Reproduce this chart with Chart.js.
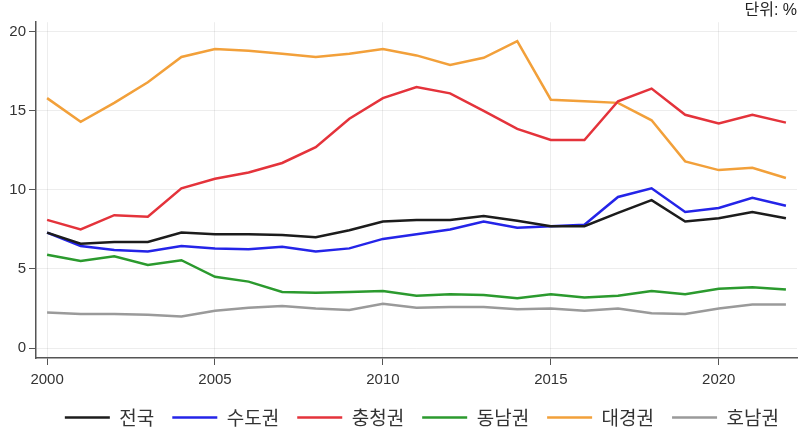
<!DOCTYPE html>
<html>
<head>
<meta charset="utf-8">
<style>
  html, body { margin: 0; padding: 0; background: #fff; }
  #wrap { width: 801px; height: 431px; }
</style>
<script src="https://cdn.jsdelivr.net/npm/chart.js@4"></script>
</head>
<body>
<div id="wrap"><canvas id="chart" width="801" height="431"></canvas></div>
<script>
// 연도
const years = [2000, 2001, 2002, 2003, 2004, 2005, 2006, 2007, 2008, 2009, 2010, 2011,
               2012, 2013, 2014, 2015, 2016, 2017, 2018, 2019, 2020, 2021, 2022];

// 권역별 비중 (%)
const nation   = [7.3, 6.6, 6.7, 6.7, 7.3, 7.2, 7.2, 7.15, 7.0, 7.45, 8.0, 8.1,
                  8.1, 8.35, 8.05, 7.7, 7.7, 8.55, 9.35, 8.0, 8.2, 8.6, 8.2];
const capital  = [7.3, 6.45, 6.2, 6.1, 6.45, 6.3, 6.25, 6.4, 6.1, 6.3, 6.9, 7.2,
                  7.5, 8.0, 7.6, 7.7, 7.8, 9.55, 10.1, 8.6, 8.85, 9.5, 9.0];
const chungcheong = [8.1, 7.5, 8.4, 8.3, 10.1, 10.7, 11.1, 11.7, 12.7, 14.5, 15.8, 16.5,
                  16.1, 15.0, 13.85, 13.15, 13.15, 15.6, 16.4, 14.75, 14.2, 14.75, 14.25];
const dongnam  = [5.9, 5.5, 5.8, 5.25, 5.55, 4.5, 4.2, 3.55, 3.5, 3.55, 3.6, 3.3,
                  3.4, 3.35, 3.15, 3.4, 3.2, 3.3, 3.6, 3.4, 3.75, 3.85, 3.7];
const daegyeong = [15.8, 14.3, 15.5, 16.8, 18.4, 18.9, 18.8, 18.6, 18.4, 18.6, 18.9, 18.5,
                  17.9, 18.35, 19.4, 15.7, 15.6, 15.5, 14.4, 11.8, 11.25, 11.4, 10.75];
const honam    = [2.25, 2.15, 2.15, 2.1, 2.0, 2.35, 2.55, 2.65, 2.5, 2.4, 2.8, 2.55,
                  2.6, 2.6, 2.45, 2.5, 2.35, 2.5, 2.2, 2.15, 2.5, 2.75, 2.75];

const regionNames = ['전국', '수도권', '충청권', '동남권', '대경권', '호남권'];
const xTicks = [2000, 2005, 2010, 2015, 2020];
const yTicks = [0, 5, 10, 15, 20];

const seriesList = [nation, capital, chungcheong, dongnam, daegyeong, honam];
const colors = ['#1c1c1c', '#2424e8', '#e4333b', '#2b9a2e', '#f2a03a', '#9a9a9a'];

const toPoints = vals => vals.map((v, i) => ({ x: years[i], y: v }));

const datasets = seriesList.map((vals, i) => ({
  label: regionNames[i],
  data: toPoints(vals),
  borderColor: colors[i],
  backgroundColor: colors[i],
  borderWidth: 2.5,
  pointRadius: 0,
  tension: 0,
  fill: false
}));

const fontFamily = '"Liberation Sans", "Noto Sans CJK KR", sans-serif';
const legendFont = '"Noto Sans CJK KR", sans-serif';

new Chart(document.getElementById('chart'), {
  type: 'line',
  data: { datasets },
  options: {
    responsive: false,
    animation: false,
    layout: { padding: { left: 0, right: 4, top: 0, bottom: -6 } },
    plugins: {
      title: {
        display: true,
        text: '단위: %',
        align: 'end',
        color: '#222',
        font: { family: fontFamily, size: 16, weight: 'normal' },
        padding: { top: 1, bottom: 2 }
      },
      legend: {
        position: 'bottom',
        align: 'end',
        labels: {
          boxWidth: 45,
          boxHeight: 2.5,
          padding: 18,
          color: '#333',
          font: { family: legendFont, size: 19 },
          // 범례 선은 테두리 없이 얇은 막대로
          generateLabels: chart =>
            Chart.defaults.plugins.legend.labels.generateLabels(chart)
              .map(item => ({ ...item, lineWidth: 0 }))
        }
      },
      tooltip: { enabled: false }
    },
    scales: {
      x: {
        type: 'linear',
        min: 1999.67,
        max: 2022.33,
        afterBuildTicks: s => { s.ticks = xTicks.map(v => ({ value: v })); },
        afterFit: s => { s.height = 32; },
        ticks: {
          color: '#333',
          font: { family: fontFamily, size: 15 },
          padding: 6,
          maxRotation: 0,
          callback: v => String(v)
        },
        grid: {
          color: 'rgba(0,0,0,0.07)',
          tickColor: '#555',
          tickLength: 7,
          drawTicks: true
        },
        border: { color: '#555', width: 1.5 }
      },
      y: {
        min: -0.63,
        max: 20.6,
        afterBuildTicks: s => { s.ticks = yTicks.map(v => ({ value: v })); },
        afterFit: s => { s.width = 36; },
        ticks: {
          color: '#333',
          font: { family: fontFamily, size: 15 },
          padding: 3
        },
        grid: {
          color: 'rgba(0,0,0,0.07)',
          tickColor: '#555',
          tickLength: 7
        },
        border: { color: '#555', width: 1.5 }
      }
    }
  }
});
</script>
</body>
</html>
